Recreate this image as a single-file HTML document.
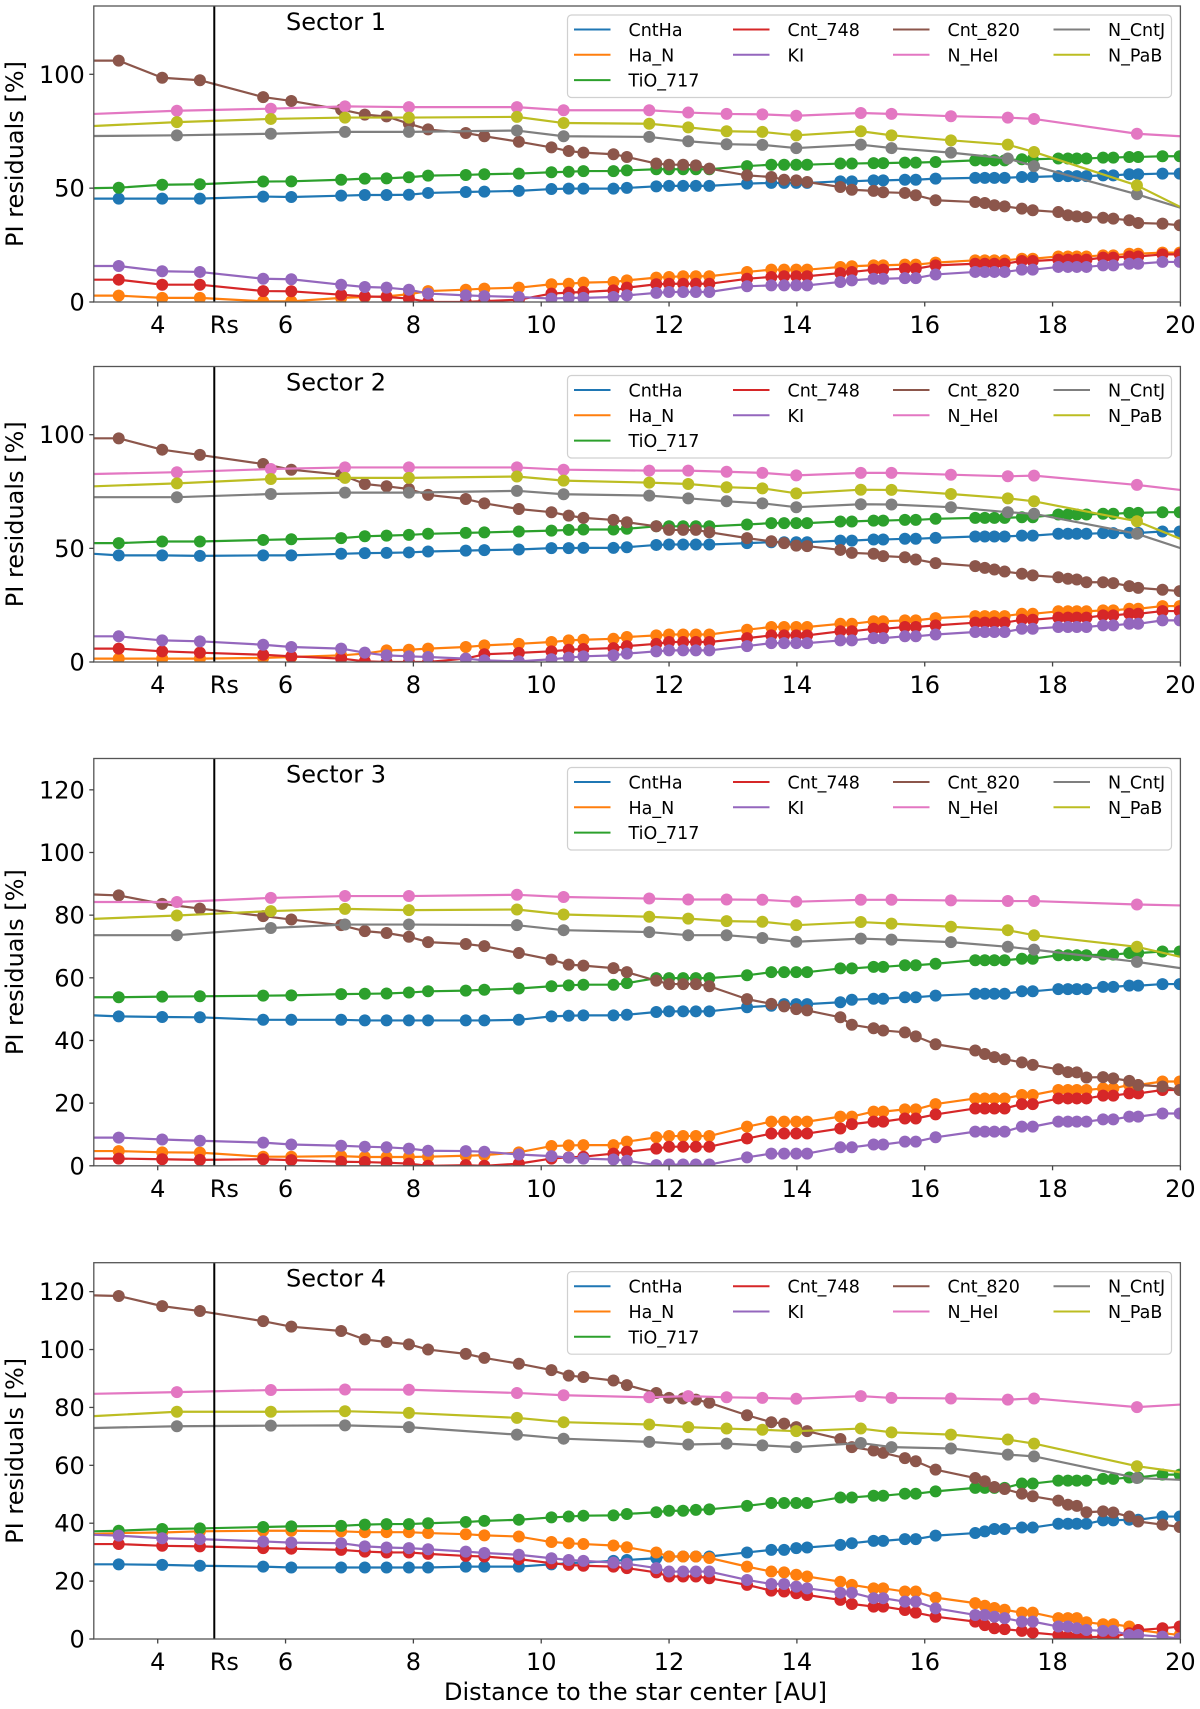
<!DOCTYPE html>
<html><head><meta charset="utf-8"><style>
html,body{margin:0;padding:0;background:#fff;}
svg{display:block;font-family:"DejaVu Sans","Liberation Sans",sans-serif;}
</style></head><body>
<svg id="chart" width="1200" height="1709" viewBox="0 0 1200 1709" xmlns="http://www.w3.org/2000/svg"></svg>
<script>
// ---- data ----
const seriesNames = ["CntHa","Ha_N","TiO_717","Cnt_748","KI","Cnt_820","N_HeI","N_CntJ","N_PaB"];
const sectorTitles = ["Sector 1","Sector 2","Sector 3","Sector 4"];
const xTicks = [4,6,8,10,12,14,16,18,20];
const yTicksA = [0,50,100];
const yTicksB = [0,20,40,60,80,100,120];
const rsPosition = 4.885;
const denseX = [3,3.39,4.07,4.66,5.65,6.09,6.87,7.24,7.58,7.93,8.23,8.82,9.11,9.65,10.16,10.43,10.66,11.13,11.34,11.80,12.0,12.22,12.42,12.63,13.22,13.60,13.80,13.99,14.16,14.68,14.86,15.20,15.35,15.69,15.86,16.17,16.79,16.94,17.09,17.25,17.52,17.69,18.09,18.24,18.38,18.53,18.79,18.95,19.20,19.34,19.72,19.99];
const sparseX = [3,4.30,5.77,6.93,7.93,9.62,10.35,11.69,12.30,12.90,13.46,13.99,15.0,15.48,16.41,17.30,17.71,19.32,20];

const s1CntHa = [45.4,45.4,45.4,45.4,46.3,46.1,46.7,47,47,47.1,47.9,48.3,48.5,48.8,49.6,49.8,49.8,49.8,50.1,50.8,51,51,51,51,52,52.3,52.3,52.3,52.3,53,53,53.4,53.4,53.7,53.7,54.2,54.5,54.5,54.5,54.5,54.9,54.9,55.3,55.3,55.3,55.3,55.6,55.6,56.1,56.1,56.4,56.4];
const s1HaN = [2.8,2.8,1.8,1.8,0.3,0.3,1.8,2.2,2.5,3.4,4.8,5.4,5.9,6.3,7.8,8,8.5,8.8,9.5,10.7,11,11.3,11.3,11.3,13.2,14.2,14.2,14.2,14.2,15.4,15.7,16.1,16.1,16.4,16.4,17.3,18.3,18.3,18.3,18.3,19,19,20,20,20,20,20.5,20.5,21.2,21.2,21.7,21.7];
const s1TiO = [50,50.2,51.5,51.7,52.9,53,53.7,54.2,54.3,54.8,55.5,55.8,56.1,56.4,57,57.2,57.5,57.5,57.8,58.3,58.3,58.3,58.3,58.3,59.7,60.3,60.3,60.3,60.3,60.8,60.8,61,61,61.2,61.2,61.5,62.2,62.2,62.2,62.2,62.7,62.7,63,63,63,63,63.4,63.4,63.7,63.7,64,64];
const s1Cnt748 = [9.8,9.8,7.6,7.6,4.8,4.7,3.2,2.5,2.2,1.5,0,0,0.4,1,3.7,4.1,4.4,5.1,6.3,7.8,8,8,8,8,10.2,11,11.3,11.3,11.3,12.7,13.2,14.2,14.2,14.6,14.6,16.1,16.8,16.8,16.8,16.8,18,18,18.6,18.6,18.6,18.6,19.5,19.5,20,20,20.9,20.9];
const s1KI = [15.8,15.8,13.5,13.2,10.2,10,7.6,6.6,6.3,5.4,3.7,2.9,2.6,2.2,1.5,1.8,1.8,2.2,2.9,4,4.4,4.4,4.4,4.4,6.9,7.3,7.3,7.3,7.3,8.8,9.5,10.2,10.2,10.5,10.5,12.1,13.2,13.2,13.2,13.2,14.2,14.2,15.4,15.4,15.4,15.4,16.1,16.1,16.8,16.8,17.6,17.6];
const s1Cnt820 = [106,106,98.5,97.4,90,88.3,84.5,82.3,81.5,78.3,75.8,74.2,72.8,70.4,67.9,66.3,65.6,64.9,63.7,60.8,60.3,60.3,60,58.6,55.6,54.9,53.7,53.4,52.7,50.5,49.3,48.8,48.2,47.9,46.9,44.7,43.9,43.5,42.5,42,41,40.3,39.5,38.1,37.6,37.3,37,36.6,35.9,34.7,34.4,33.7];
const s1HeI = [82.6,84,84.9,85.9,85.6,85.6,84.2,84.2,83.2,82.6,82.4,81.8,83,82.6,81.6,81,80.4,73.9,72.8];
const s1CntJ = [72.9,73.2,73.9,74.7,74.7,75.3,72.8,72.5,70.6,69.3,69,67.6,69.1,67.6,65.6,63,59.7,47.3,41.4];
const s1PaB = [77.3,79,80.4,81,81,81.3,78.6,78.3,76.7,75,74.7,73.2,75,73.2,71,69.1,65.9,51.2,41.7];

const s2CntHa = [47.6,46.9,46.9,46.7,46.9,46.9,47.6,47.9,48,48.2,48.6,49,49.2,49.5,50.1,50.1,50.2,50.2,50.5,51.5,51.7,51.7,51.7,51.7,52.3,52.7,52.7,52.7,52.7,53.4,53.4,53.9,53.9,54.2,54.2,54.6,55.2,55.2,55.2,55.2,55.6,55.6,56.4,56.4,56.4,56.4,56.7,56.7,56.8,56.8,57.4,57.4];
const s2HaN = [1.5,1.5,1.5,1.5,1.8,2.2,2.9,3.7,5.1,5.4,5.9,6.6,7.3,8,8.8,9.5,9.8,10.2,11,11.7,12.1,12.1,12.1,12.1,14.2,15.4,15.4,15.4,15.4,16.8,16.8,17.9,17.9,18.3,18.3,19.3,20.2,20.2,20.2,20.2,21.2,21.2,22.3,22.3,22.3,22.3,22.7,22.7,23.4,23.4,24.6,24.6];
const s2TiO = [52.3,52.3,53,53,53.7,54,54.5,55.3,55.6,55.9,56.4,56.8,57,57.4,57.8,58.1,58.3,58.3,58.6,59.7,59.7,59.7,59.7,59.7,60.5,61.1,61.1,61.1,61.1,61.8,61.8,62.2,62.2,62.5,62.5,63,63.4,63.4,63.4,63.4,63.7,63.7,64.9,64.9,64.9,64.9,65.2,65.2,65.6,65.6,65.9,65.9];
const s2Cnt748 = [5.9,5.9,4.7,4.1,3.2,2.5,1.5,0.3,0,0,0,1.5,3.4,4,4.7,5.4,5.7,6.1,7,8,8.8,8.8,8.8,8.8,10.5,11.7,11.7,11.7,11.7,13.5,13.5,14.6,14.6,15.4,15.4,16.1,17.3,17.3,17.3,17.3,18.6,18.6,19.5,19.5,19.5,19.5,20.5,20.5,21.2,21.2,22.4,22.4];
const s2KI = [11.3,11.3,9.5,9.1,7.6,6.6,5.9,4.1,2.9,2.5,2.2,1.5,0.7,0.3,1.2,1.9,2.5,2.9,3.7,4.7,5.1,5.1,5.1,5.1,7,8.3,8.3,8.3,8.3,9.5,9.5,10.5,10.5,11.3,11.3,12.1,13.2,13.2,13.2,13.2,14.6,14.6,15.4,15.4,15.4,15.4,16.1,16.1,16.8,16.8,18.3,18.3];
const s2Cnt820 = [98.4,98.4,93.4,91.1,87.1,84.6,82.4,78.3,77.3,76.1,73.5,71.7,69.8,67.3,65.9,64.4,63.4,62.5,61.5,59.7,58.1,58.1,58.1,57.1,54.5,53.1,52.3,51.2,51,49.3,48,47.6,46.6,46.1,45.1,43.5,42.2,41.4,40.7,39.8,38.8,38.1,37.3,36.6,36.3,35.1,35.1,34.7,33.4,32.6,31.8,31.2];
const s2HeI = [82.7,83.5,84.9,85.6,85.6,85.6,84.6,84.2,84.2,83.7,83.2,82.1,83.2,83.2,82.4,81.7,82,77.9,75.7];
const s2CntJ = [72.5,72.5,73.9,74.5,74.5,75.3,73.8,73.2,72,70.7,69.8,68.1,69.4,69.3,68.1,65.9,65.2,56.4,50.1];
const s2PaB = [77.3,78.6,80.5,81,81,81.6,79.8,78.9,78.3,76.9,76.4,74.2,75.8,75.7,73.9,72,70.7,61.9,54.2];

const s3CntHa = [48,47.7,47.5,47.4,46.6,46.6,46.6,46.4,46.4,46.4,46.4,46.4,46.4,46.6,47.7,47.9,48,48,48.2,49.1,49.3,49.3,49.3,49.3,50.6,51.1,51.6,51.6,51.6,52.2,53,53.3,53.3,53.8,53.8,54.3,54.9,54.9,54.9,54.9,55.7,55.7,56.4,56.4,56.4,56.4,57.1,57.1,57.5,57.5,58,58];
const s3HaN = [4.7,4.7,4.3,4.2,2.9,2.9,3.1,2.8,2.8,2.8,2.9,3.2,3.4,4.3,6.3,6.5,6.6,6.6,7.7,9.1,9.5,9.5,9.5,9.5,12.5,14.1,14.1,14.1,14.1,15.7,15.7,17.3,17.3,18,18,19.7,21.5,21.5,21.5,21.5,22.6,22.6,24.2,24.2,24.2,24.2,24.7,24.7,25.8,25.8,26.9,26.9];
const s3TiO = [53.8,53.8,54,54.1,54.3,54.4,54.8,54.9,55,55.3,55.7,55.9,56.2,56.6,57.3,57.6,57.8,57.8,58.3,59.9,59.9,59.9,59.9,59.9,60.8,61.8,61.8,61.8,61.8,63,63,63.5,63.5,64,64,64.5,65.6,65.6,65.6,65.6,66.1,66.1,67.2,67.2,67.2,67.2,67.4,67.4,67.9,67.9,68.4,68.4];
const s3Cnt748 = [2.3,2.3,2.1,1.9,2.1,1.8,1.3,1.2,1,0.7,0,0.2,0,0.7,2.3,2.7,2.9,3.9,4.5,5.5,6.1,6.1,6.1,6.1,8.7,10.3,10.3,10.3,10.3,11.9,13.3,14.1,14.1,15.1,15.1,16.4,18.3,18.3,18.3,18.3,19.7,19.7,21.5,21.5,21.5,21.5,22.4,22.4,23.1,23.1,24.2,24.2];
const s3KI = [9,9,8.4,8,7.4,6.8,6.4,6.1,5.9,5.5,4.8,4.7,4.5,3.6,3.1,2.6,2.3,2,1.6,0.2,0.4,0.4,0.4,0.4,2.7,3.9,3.9,3.9,3.9,5.9,5.9,6.8,6.8,7.7,7.7,9.1,10.9,10.9,10.9,10.9,12.5,12.5,14.1,14.1,14.1,14.1,14.8,14.8,15.7,15.7,16.7,16.7];
const s3Cnt820 = [86.6,86.3,83.6,82.1,79.7,78.6,76.8,74.9,74.3,73.1,71.4,70.8,70.1,67.9,65.8,64.2,63.9,63.1,61.8,59.1,58,58,58,57.3,53.2,51.7,50.9,50,49.6,47.4,45,43.9,43.2,42.6,41.3,38.8,36.8,35.7,34.7,34,33,32.2,30.8,29.9,29.8,28.2,28.3,27.9,27.1,25.8,25.3,24.2];
const s3HeI = [84.2,84.2,85.5,86.1,86.1,86.5,85.8,85.3,85,85,84.9,84.3,84.9,84.9,84.7,84.5,84.5,83.4,83.1];
const s3CntJ = [73.6,73.6,75.9,77,77,76.8,75.2,74.6,73.6,73.6,72.7,71.5,72.5,72.2,71.4,69.9,69,65.1,63.1];
const s3PaB = [78.8,79.9,81.3,82,81.6,81.8,80.2,79.5,78.9,78.1,77.9,76.8,77.8,77.3,76.3,75.2,73.6,69.9,66.7];

const s4CntHa = [25.8,25.8,25.6,25.3,25,24.7,24.7,24.7,24.7,24.7,24.7,25,25,25,25.8,26.2,26.4,27,27.3,27.9,28.5,28.5,28.5,28.5,29.9,30.8,30.8,31.4,31.6,32.5,33.1,33.9,33.9,34.5,34.5,35.7,36.6,37.2,38,38,38.5,38.5,39.8,39.8,39.8,39.8,41,41,41.2,41.2,42.3,42.3];
const s4HaN = [36.3,36.6,36.8,37.2,37.4,37.4,37.2,36.9,36.9,36.9,36.6,36.2,35.8,35.4,33.5,33.1,32.8,32.3,31.7,29.9,28.5,28.5,28.5,28,25,23.3,23,22.2,21.6,19.8,18.7,17.5,17.5,16.4,16.4,14.3,12.4,11.5,10.7,10.1,9.1,9.1,7.2,7.2,7.2,5.8,5.1,5.1,4.3,3.1,2,1.4];
const s4TiO = [37.2,37.4,38,38.2,38.7,38.9,39.1,39.5,39.7,39.7,40,40.4,40.8,41.2,42,42.3,42.6,42.7,43.2,43.8,44.3,44.3,44.6,44.8,46,47,47,47,47,48.9,48.9,49.5,49.5,50.2,50.2,51,52.2,52.2,52.2,52.2,53.7,53.7,54.7,54.7,54.7,54.7,55.3,55.3,55.8,55.8,56.8,56.8];
const s4Cnt748 = [32.8,32.8,32.2,32,31.4,31.2,30.8,30.2,29.9,29.9,29.4,28.7,28.5,27.6,26.2,25.6,25.3,25,24.5,23,21.6,21.6,21.6,21,18.7,16.7,16.4,15.8,15.2,13.5,12.1,11.2,11.2,10,9.1,7.7,6,4.8,3.7,3.4,2.8,2.2,1.4,0.8,0.6,0.6,0.8,0.8,2,3.1,3.7,4.3];
const s4KI = [36,35.7,34.8,34.5,33.7,33.3,33.1,32,31.6,31.4,31,30.2,29.7,29.1,27.9,27.3,27,26.4,26,24.5,23.3,23.3,23.3,23.3,20.4,19,19,18.1,17.5,16,16,14.1,14.1,12.9,12.9,10.6,8.3,8.3,7.7,7.2,6,6,4.3,4.3,3.7,3.1,2.8,2.8,1.4,1.4,0.8,0.2];
const s4Cnt820 = [118.7,118.5,115,113.3,109.8,107.9,106.4,103.5,102.6,101.8,100,98.5,97.1,95.1,92.9,91,90.5,89.3,87.7,85,83.3,83.1,82.7,81.6,77.3,74.9,74.4,73.2,71.8,69.1,66.3,65.1,64.3,62.5,61.4,58.5,55.6,54.5,52.5,51.8,50.2,49.3,47.8,46.4,46,43.8,44.1,43.7,42.3,40.6,39.5,38.7];
const s4HeI = [84.7,85.3,86,86.2,86.1,85,84.2,83.5,83.9,83.5,83.3,83,83.9,83.3,83.1,82.7,83.1,80.1,81];
const s4CntJ = [72.9,73.5,73.7,73.8,73.2,70.6,69.2,68.1,67.2,67.5,66.9,66.3,67.7,66.3,65.8,63.7,63.1,55.6,55];
const s4PaB = [77,78.5,78.5,78.7,78.1,76.4,74.9,74.1,73.2,72.7,72.3,71.8,72.7,71.4,70.6,68.9,67.5,59.7,57.6];

const sectorData = [
  [s1CntHa,s1HaN,s1TiO,s1Cnt748,s1KI,s1Cnt820,s1HeI,s1CntJ,s1PaB],
  [s2CntHa,s2HaN,s2TiO,s2Cnt748,s2KI,s2Cnt820,s2HeI,s2CntJ,s2PaB],
  [s3CntHa,s3HaN,s3TiO,s3Cnt748,s3KI,s3Cnt820,s3HeI,s3CntJ,s3PaB],
  [s4CntHa,s4HaN,s4TiO,s4Cnt748,s4KI,s4Cnt820,s4HeI,s4CntJ,s4PaB]
];

// ---- style / layout ----
const colors = ["#1f77b4","#ff7f0e","#2ca02c","#d62728","#9467bd","#8c564b","#e377c2","#7f7f7f","#bcbd22"];
const sparseFlags = [false,false,false,false,false,false,true,true,true];
const L = 93.8, R = 1180.4, X0 = 3, X1 = 20, YMAX = 130;
const panels = [{top:6,bottom:302,ticks:yTicksA},{top:366.5,bottom:662,ticks:yTicksA},{top:758.5,bottom:1165.8,ticks:yTicksB},{top:1262.7,bottom:1639,ticks:yTicksB}];
const NS = "http://www.w3.org/2000/svg";
const svg = document.getElementById("chart");
function mk(tag, attrs, parent){ const e=document.createElementNS(NS,tag); for(const k in attrs) e.setAttribute(k,attrs[k]); (parent||svg).appendChild(e); return e; }
function xs(v){ return L + (v - X0) / (X1 - X0) * (R - L); }

const defs = mk("defs",{});
panels.forEach((p, pi) => {
  const ys = v => p.bottom - v / YMAX * (p.bottom - p.top);
  const g = mk("g",{});
  
  
  const cp = mk("clipPath",{id:"clip"+pi}, defs);
  mk("rect",{x:L,y:p.top,width:R-L,height:p.bottom-p.top}, cp);

  const plot = mk("g",{"clip-path":"url(#clip"+pi+")"}, g);
  
  
  const series = sectorData[pi];
  series.forEach((vals, si) => {
    const xArr = sparseFlags[si] ? sparseX : denseX;
    const sg = mk("g",{}, plot);
    
    
    const pts = vals.map((v,i) => xs(xArr[i]).toFixed(2)+","+ys(v).toFixed(2)).join(" ");
    const line = mk("polyline",{points:pts,fill:"none",stroke:colors[si],"stroke-width":2.2,"stroke-linejoin":"round"}, sg);
    
    
    vals.forEach((v,i) => {
      if (i === 0) return;
      if (sparseFlags[si] && i === vals.length-1) return;
      const c = mk("circle",{cx:xs(xArr[i]).toFixed(2),cy:ys(v).toFixed(2),r:6,fill:colors[si]}, sg);
      
      
    });
  });
  // Rs line
  const rs = mk("line",{x1:xs(rsPosition),x2:xs(rsPosition),y1:p.top,y2:p.bottom,stroke:"#000","stroke-width":2}, g);
  
  
  const rst = mk("text",{x:xs(rsPosition)+10,y:p.bottom+31,"font-size":24,"text-anchor":"middle",fill:"#000"}, g);
  rst.textContent = "Rs";
  
  
  // frame
  const fr = mk("rect",{x:L,y:p.top,width:R-L,height:p.bottom-p.top,fill:"none",stroke:"#555","stroke-width":1.3}, g);
  
  
  // x ticks
  xTicks.forEach(t => {
    mk("line",{x1:xs(t),x2:xs(t),y1:p.bottom,y2:p.bottom+4.5,stroke:"#444","stroke-width":1.3}, g);
    const tx = mk("text",{x:xs(t),y:p.bottom+31,"font-size":24,"text-anchor":"middle",fill:"#000"}, g);
    tx.textContent = String(t);
    
    
  });
  // y ticks
  p.ticks.forEach(t => {
    mk("line",{x1:L-4.5,x2:L,y1:ys(t),y2:ys(t),stroke:"#444","stroke-width":1.3}, g);
    const ty = mk("text",{x:L-9,y:ys(t)+8.5,"font-size":24,"text-anchor":"end",fill:"#000"}, g);
    ty.textContent = String(t);
    
    
  });
  // y label
  const cy = (p.top + p.bottom) / 2;
  const yl = mk("text",{x:0,y:0,"font-size":24,"text-anchor":"middle",fill:"#000",transform:"translate(23,"+cy+") rotate(-90)"}, g);
  yl.textContent = "PI residuals [%]";
  
  
  // title
  const st = mk("text",{x:286,y:p.top+24,"font-size":24,fill:"#000"}, g);
  st.textContent = sectorTitles[pi];
  
  
  // legend
  const lg = mk("g",{}, g);
  
  
  const lt = p.top + 9;
  mk("rect",{x:567.5,y:lt,width:604,height:82.5,rx:4,fill:"#fff","fill-opacity":0.85,stroke:"#d0d0d0","stroke-width":1.2}, lg);
  const colX = [574, 733, 893, 1053.5];
  const rowsPerCol = [3,2,2,2];
  let idx = 0;
  colX.forEach((cx, ci) => {
    for (let r=0; r<rowsPerCol[ci]; r++) {
      const yy = lt + 14.5 + r * 25.3;
      const le = mk("g",{}, lg);
      
      
      mk("line",{x1:cx,x2:cx+36.5,y1:yy,y2:yy,stroke:colors[idx],"stroke-width":2}, le);
      const t = mk("text",{x:cx+54.5,y:yy+6.5,"font-size":17.5,fill:"#000"}, le);
      t.textContent = seriesNames[idx];
      idx++;
    }
  });
});
const xl = mk("text",{x:444,y:1700,"font-size":24,fill:"#000"});
xl.textContent = "Distance to the star center [AU]";


</script>
</body></html>
